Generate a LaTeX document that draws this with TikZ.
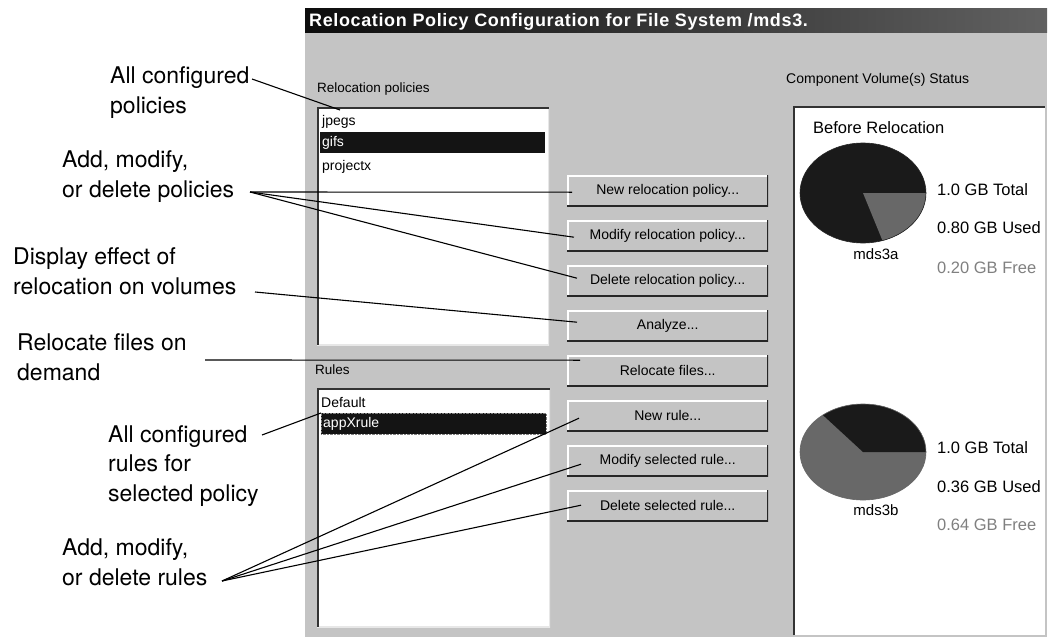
\documentclass[tikz,border=0pt]{standalone}
\usepackage{fontspec}
\setmainfont{Liberation Sans}
\newfontfamily\notefont{TeX Gyre Heros}
\newfontfamily\titlefont[LetterSpace=3.5]{Liberation Sans}
\usepackage{tikz}
\usetikzlibrary{calc}
\usepackage{xcolor}

\definecolor{winbg}{RGB}{196,196,196}
\definecolor{piedark}{RGB}{26,26,26}
\definecolor{piegray}{RGB}{104,104,104}
\definecolor{freegray}{RGB}{128,128,128}

\tikzset{
  note/.style={font=\notefont\fontsize{23}{29.5}\selectfont, align=left, anchor=base west, inner sep=0pt},
  uitext/.style={font=\fontsize{13.5}{16}\selectfont, anchor=base west, inner sep=0pt},
  voltext/.style={font=\fontsize{16.5}{19}\selectfont, anchor=base west, inner sep=0pt},
  selitem/.style={anchor=north west, fill=black!92, text=white, text width=221pt, inner xsep=2pt, inner ysep=0pt,
    minimum height=21pt, font=\fontsize{14}{16}\selectfont},
  uibtn/.style={rectangle, fill=winbg, minimum width=201pt, minimum height=31pt, anchor=north west, inner sep=0pt,
    font=\fontsize{14}{16}\selectfont,
    path picture={
      \draw[white, line width=3pt] (path picture bounding box.south west) -- (path picture bounding box.north west) -- (path picture bounding box.north east);
      \draw[black!85, line width=3pt] (path picture bounding box.south west) -- (path picture bounding box.south east) -- (path picture bounding box.north east);
    }},
  listbox/.style={rectangle, fill=white, anchor=north west, inner sep=0pt,
    path picture={
      \draw[white!60!winbg, line width=3pt] (path picture bounding box.south west) -- (path picture bounding box.south east) -- (path picture bounding box.north east);
      \draw[black!80, line width=3pt] (path picture bounding box.south west) -- (path picture bounding box.north west) -- (path picture bounding box.north east);
    }},
  callout/.style={line width=1.1pt}
}

\begin{document}
\begin{tikzpicture}[x=1pt, y=-1pt]  % 1 unit = 1 pixel of the screenshot, y downwards
\useasboundingbox (0,0) rectangle (1058,637);

% window
\fill[winbg] (305,32) rectangle (1047,637);
\shade[left color=black!95, right color=black!62] (305,8) rectangle (1047,32);
\node[anchor=base west, text=white, font=\titlefont\bfseries\fontsize{18}{20}\selectfont, inner sep=0pt] (title) at (309,27) {Relocation Policy Configuration for File System /mds3.};

% policy list
\node[uitext] (polhead) at (317,92) {Relocation policies};
\node[listbox, minimum width=232pt, minimum height=238pt] (polbox) at (317,107) {};
\node[uitext, font=\fontsize{14}{16}\selectfont] (ijpegs) at (322,125) {jpegs};
\node[selitem] (selpol) at (320,132) {gifs};
\node[uitext, font=\fontsize{14}{16}\selectfont] (iproj) at (322,170) {projectx};

% rule list
\node[uitext] (rulehead) at (315,374) {Rules};
\node[listbox, minimum width=233pt, minimum height=239pt] (rulebox) at (317,388) {};
\node[uitext, font=\fontsize{14}{16}\selectfont] (idef) at (321,407) {Default};
\node[selitem, draw=gray, densely dotted] (selrule) at (321,413) {appXrule};

% buttons
\node[uibtn] (bnew) at (567,175) {New relocation policy...};
\node[uibtn] (bmod) at (567,220) {Modify relocation policy...};
\node[uibtn] (bdel) at (567,265) {Delete relocation policy...};
\node[uibtn] (banal) at (567,310) {Analyze...};
\node[uibtn] (breloc) at (567,355) {Relocate files...};
\node[uibtn] (bnrule) at (567,400) {New rule...};
\node[uibtn] (bmrule) at (567,445) {Modify selected rule...};
\node[uibtn] (bdrule) at (567,490) {Delete selected rule...};

% volume status panel
\node[uitext, font=\fontsize{14}{16}\selectfont] (volhead) at (786,83) {Component Volume(s) Status};
\fill[white] (793,106) rectangle (1045,635);
\draw[black!80, line width=2pt] (794,635) -- (794,107) -- (1045,107);
\node[voltext] (before) at (813,133) {Before Relocation};

% pie mds3a: 20% free
\fill[piedark] (863,193) ellipse[x radius=63, y radius=50];
\fill[piegray] (863,193) -- ++(63,0) arc[start angle=0, end angle=72, x radius=63, y radius=50] -- cycle;
\draw[black!85, line width=0.6pt] (863,193) ellipse[x radius=63, y radius=50];
\node[voltext, anchor=base, font=\fontsize{15}{17}\selectfont] (mdsa) at (876,259) {mds3a};
\node[voltext] (tota) at (937,195) {1.0 GB Total};
\node[voltext] (useda) at (937,233) {0.80 GB Used};
\node[voltext, text=freegray] (freea) at (937,273) {0.20 GB Free};

% pie mds3b: 36% used
\fill[piegray] (863,452) ellipse[x radius=63, y radius=48];
\fill[piedark] (863,452) -- ++(63,0) arc[start angle=0, end angle=-129.6, x radius=63, y radius=48] -- cycle;
\draw[black!60, line width=0.6pt] (863,452) ellipse[x radius=63, y radius=48];
\node[voltext, anchor=base, font=\fontsize{15}{17}\selectfont] (mdsb) at (876,515) {mds3b};
\node[voltext] (totb) at (937,453) {1.0 GB Total};
\node[voltext] (usedb) at (937,492) {0.36 GB Used};
\node[voltext, text=freegray] (freeb) at (937,530) {0.64 GB Free};

% notes on the left (base = last line)
\node[note] (nallpol) at (110,113) {All configured\\policies};
\node[note] (naddpol) at (62,197) {Add, modify,\\or delete policies};
\node[note] (ndisp) at (13,294) {Display effect of\\relocation on volumes};
\node[note] (nreloc) at (17,380) {Relocate files on\\demand};
\node[note] (nallrule) at (108,501) {All configured\\rules for\\selected policy};
\node[note] (naddrule) at (62,585) {Add, modify,\\or delete rules};

\coordinate (sallpol) at (252,79);
\coordinate (saddpol) at (250,192);
\coordinate (sdisp) at (255,292);
\coordinate (sreloc) at (205,360);
\coordinate (sallrule) at (262,435);
\coordinate (saddrule) at (222,581);

\draw[callout] (sallpol) -- ($(polbox.north west)+(23,3)$);
\draw[callout] (saddpol) -- ($(bnew.west)+(5,1.5)$);
\draw[callout] (saddpol) -- ($(bmod.west)+(7,1.5)$);
\draw[callout] (saddpol) -- ($(bdel.west)+(10,-2.5)$);
\draw[callout] (sdisp) -- ($(banal.west)+(10,-3.5)$);
\draw[callout] (sreloc) -- ($(breloc.west)+(13,-10.5)$);
\draw[callout] (sallrule) -- (selrule.north west);
\draw[callout] (saddrule) -- ($(bnrule.west)+(12,2.5)$);
\draw[callout] (saddrule) -- ($(bmrule.west)+(14,3.5)$);
\draw[callout] (saddrule) -- ($(bdrule.west)+(14,-0.5)$);
\end{tikzpicture}
\end{document}
